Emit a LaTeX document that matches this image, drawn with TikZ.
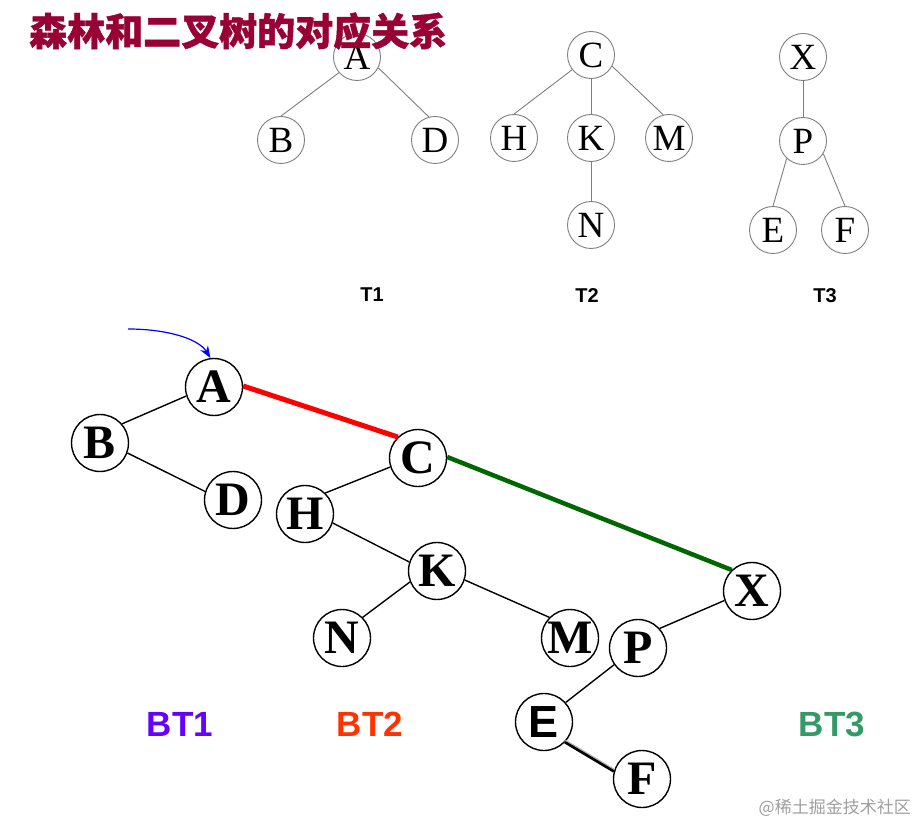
\documentclass[tikz,border=0pt]{standalone}
\usepackage{fontspec}
\setmainfont{Liberation Serif}
\newfontfamily\sansf{Liberation Sans}
\newfontfamily\cjkf{Noto Sans CJK SC}
\newfontfamily\cjkt{Noto Sans CJK SC}[BoldFeatures={FakeBold=1.2}]
\usetikzlibrary{arrows.meta}
\definecolor{titlec}{HTML}{990033}
\definecolor{bta}{HTML}{6600FF}
\definecolor{btb}{HTML}{FF3300}
\definecolor{btc}{HTML}{339966}
\definecolor{greenline}{HTML}{006600}
\definecolor{topgray}{HTML}{7F7F7F}
\tikzset{
  tnode/.style={circle, draw=topgray, line width=0.9pt, minimum size=47pt, inner sep=0pt,
    font=\fontsize{37}{37}\selectfont},
  bnode/.style={circle, draw=black, line width=1.4pt, minimum size=57pt, inner sep=0pt,
    font=\fontsize{48}{48}\selectfont\bfseries},
  tedge/.style={draw=topgray, line width=0.9pt},
  bedge/.style={draw=black, line width=1.4pt},
  tlabel/.style={font=\sansf\bfseries\fontsize{20}{20}\selectfont},
  btlabel/.style={font=\sansf\bfseries\fontsize{35}{35}\selectfont},
}
\begin{document}
\begin{tikzpicture}[x=1pt,y=-1pt]
\useasboundingbox (0,0) rectangle (919,826);
\fill[white] (0,0) rectangle (919,826);

% ---------- top forest ----------
\node[tnode] (tA) at (357,57) {A};
\node[tnode] (tB) at (281,140) {B};
\node[tnode] (tD) at (435,140) {D};
\draw[tedge] (tA.221) -- (tB.90);
\draw[tedge] (tA.-27) -- (tD.105);

\node[tnode] (tC) at (591,55) {C};
\node[tnode] (tH) at (514,138) {H};
\node[tnode] (tK) at (591,138) {K};
\node[tnode] (tM) at (669,138) {M};
\node[tnode] (tN) at (591,225) {N};
\draw[tedge] (tC.218) -- (tH.90);
\draw[tedge] (tC.south) -- (tK.north);
\draw[tedge] (tC.-28) -- (tM.104);
\draw[tedge] (tK.south) -- (tN.north);

\node[tnode] (tX) at (803,57) {X};
\node[tnode] (tP) at (803,141) {P};
\node[tnode] (tE) at (773,230) {E};
\node[tnode] (tF) at (845,230) {F};
\draw[tedge] (tX.south) -- (tP.north);
\draw[tedge] (tP.227) -- (tE.90);
\draw[tedge] (tP.-32) -- (tF.90);

\node[tlabel] (T1) at (372,295) {T1};
\node[tlabel] (T2) at (587,296) {T2};
\node[tlabel] (T3) at (825,296) {T3};

% ---------- title ----------
\node[font=\cjkt\bfseries\fontsize{38}{38}\selectfont, text=titlec, anchor=west, inner sep=0pt] (title) at (29,31) {森林和二叉树的对应关系};

% ---------- binary tree ----------
\node[bnode] (A) at (214,387) {A};
\node[bnode] (B) at (100,443) {B};
\node[bnode] (D) at (233,500) {D};
\node[bnode] (C) at (418,458) {C};
\node[bnode] (H) at (305,514) {H};
\node[bnode] (K) at (437,571) {K};
\node[bnode] (N) at (342,638) {N};
\node[bnode] (M) at (570,638) {M};
\node[bnode] (X) at (752,591) {X};
\node[bnode] (P) at (638,648) {P};
\node[bnode, font=\sansf\bfseries\fontsize{45}{45}\selectfont] (E) at (544,722) {E};
\node[bnode] (F) at (642,779) {F};

\draw[bedge] (A.198) -- (B.41);
\draw[bedge] (B.340) -- (D.163);
\draw[red, line width=5pt] (A.2) -- (C.134);
\draw[greenline, line width=4.5pt] (C.2) -- (X.134);
\draw[bedge] (C.198) -- (H.46);
\draw[bedge] (H.342) -- (K.162);
\draw[bedge] (K.202) -- (N.45);
\draw[bedge] (K.342) -- (M.135);
\draw[bedge] (X.199) -- (P.42);
\draw[bedge] (P.215) -- (E.42);
\draw[gray!60, line width=2.6pt] ([yshift=1.5pt]E.316) -- ([yshift=1.5pt]F.165);
\draw[black, line width=2.6pt] (E.316) -- (F.165);

% arrow into A
\coordinate (arrS) at (128,329);
\draw[blue, line width=1.2pt, -{Stealth[length=12pt,width=9pt]}] (arrS) .. controls (165,329) and (198,338) .. (A.97);

% labels
\node[btlabel, text=bta] (BT1) at (180,724) {BT1};
\node[btlabel, text=btb] (BT2) at (370,724) {BT2};
\node[btlabel, text=btc] (BT3) at (832,724) {BT3};

% watermark
\node[font=\cjkf\fontsize{17}{17}\selectfont, text=gray!75, anchor=east, inner sep=0pt] (wm) at (911,808) {@稀土掘金技术社区};
\end{tikzpicture}
\end{document}
